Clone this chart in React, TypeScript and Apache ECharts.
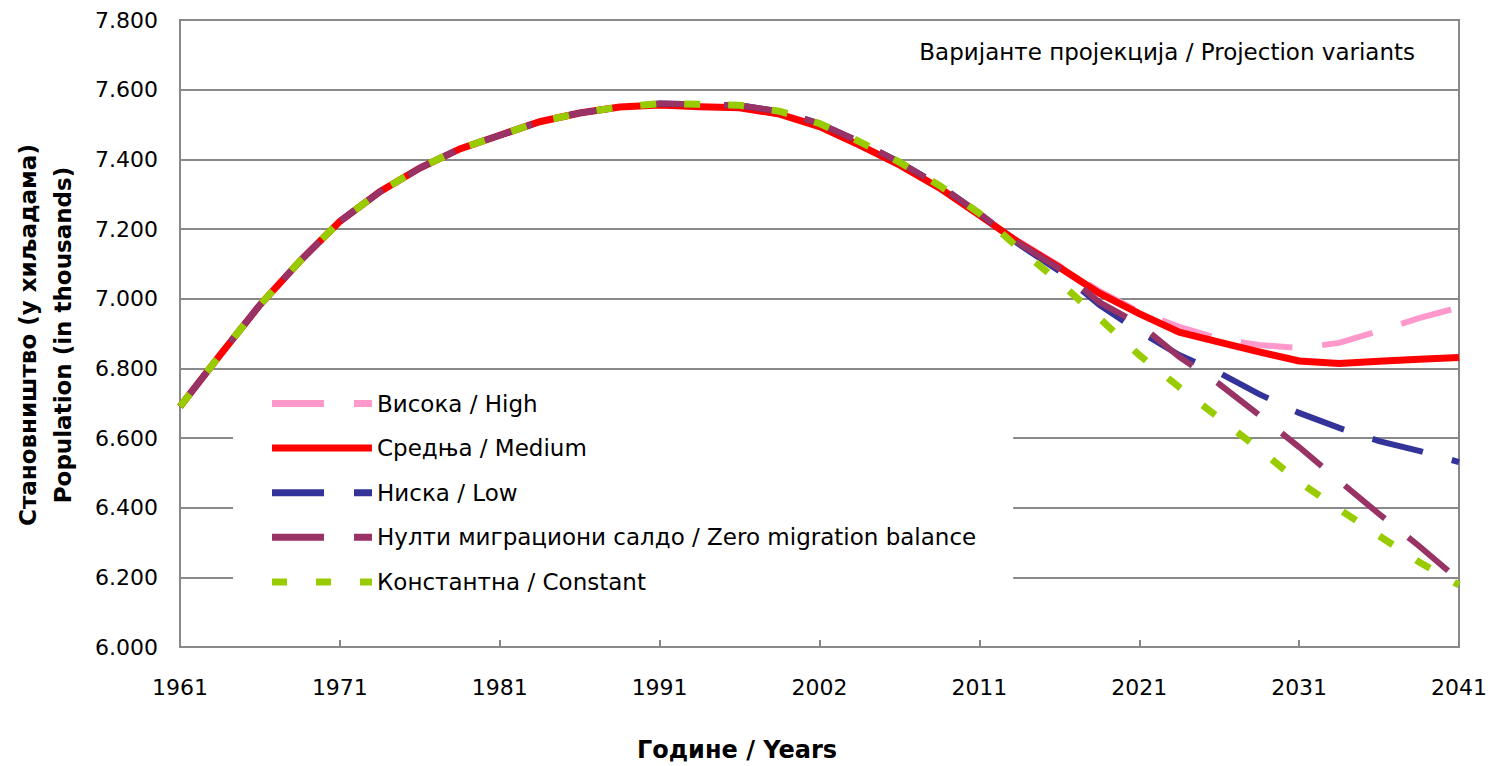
import React, { useEffect, useRef } from 'react';
import * as echarts from 'echarts';

// Category labels shown on the horizontal axis (every 4th data position)
const YEAR_LABELS = ['1961', '1971', '1981', '1991', '2002', '2011', '2021', '2031', '2041'];
const STEPS_PER_LABEL = 4;

const SERIES_NAMES = [
  'Висока / High',
  'Средња / Medium',
  'Ниска / Low',
  'Нулти миграциони салдо / Zero migration balance',
  'Константна / Constant',
];

// Population in thousands, 33 positions (4 per labelled interval)
const HIGH = [
  6690, 6838, 6982, 7108, 7222, 7307, 7375, 7430, 7469, 7508, 7533, 7550, 7556, 7551, 7548, 7530, 7494,
  7441, 7384, 7318, 7240, 7164, 7094, 7022, 6962, 6919, 6885, 6867, 6858, 6873, 6907, 6944, 6975,
];
const MEDIUM = [
  6690, 6838, 6982, 7108, 7222, 7307, 7375, 7430, 7469, 7508, 7533, 7550, 7556, 7551, 7548, 7530, 7494,
  7441, 7384, 7318, 7240, 7160, 7090, 7016, 6957, 6904, 6875, 6847, 6821, 6814, 6820, 6826, 6831,
];
const LOW = [
  6690, 6838, 6982, 7108, 7222, 7307, 7375, 7430, 7469, 7508, 7533, 7550, 7560, 7558, 7555, 7538, 7503,
  7451, 7392, 7325, 7245, 7155, 7079, 6982, 6906, 6838, 6787, 6726, 6672, 6629, 6591, 6563, 6531,
];
const ZERO_MIGRATION = [
  6690, 6838, 6982, 7108, 7222, 7307, 7375, 7430, 7469, 7508, 7533, 7550, 7560, 7558, 7555, 7538, 7503,
  7451, 7392, 7325, 7245, 7158, 7086, 6990, 6927, 6833, 6755, 6666, 6574, 6477, 6382, 6290, 6192,
];
const CONSTANT = [
  6690, 6838, 6982, 7108, 7222, 7307, 7375, 7430, 7469, 7508, 7533, 7550, 7560, 7558, 7555, 7538, 7503,
  7451, 7392, 7325, 7245, 7143, 7048, 6944, 6838, 6746, 6657, 6568, 6474, 6396, 6319, 6244, 6178,
];

const Y_MIN = 6000;
const Y_MAX = 7800;
const Y_STEP = 200;

const FONT = 'DejaVu Sans';
const GRID_COLOR = '#898989';

const STYLES = [
  { color: '#FF99CC', width: 6, dash: [52, 30] as number[] | 'solid', icon: 'path://M0,0H52V7H0Z M82,0H100V7H82Z' },
  { color: '#FF0000', width: 7, dash: 'solid' as number[] | 'solid', icon: 'path://M0,0H100V7H0Z' },
  { color: '#333399', width: 6, dash: [52, 30] as number[] | 'solid', icon: 'path://M0,0H52V7H0Z M82,0H100V7H82Z' },
  { color: '#993366', width: 6, dash: [52, 30] as number[] | 'solid', icon: 'path://M0,0H52V7H0Z M82,0H100V7H82Z' },
  { color: '#99CC00', width: 7, dash: [16, 28] as number[] | 'solid', icon: 'path://M0,0H15V7H0Z M44,0H59V7H44Z M88,0H100V7H88Z' },
];

const VALUES = [HIGH, MEDIUM, LOW, ZERO_MIGRATION, CONSTANT];

export default function App() {
  const ref = useRef<HTMLDivElement>(null);

  useEffect(() => {
    if (!ref.current) return;
    const chart = echarts.init(ref.current, undefined, { renderer: 'svg' });
    const maxX = (YEAR_LABELS.length - 1) * STEPS_PER_LABEL;

    chart.setOption({
      animation: false,
      backgroundColor: '#ffffff',
      grid: {
        left: 180,
        right: 30,
        top: 20,
        bottom: 119,
        show: true,
        borderColor: GRID_COLOR,
        borderWidth: 2,
        backgroundColor: 'transparent',
      },
      xAxis: {
        type: 'value',
        min: 0,
        max: maxX,
        interval: STEPS_PER_LABEL,
        splitLine: { show: false },
        axisLine: { show: true, lineStyle: { color: GRID_COLOR, width: 2 } },
        axisTick: { show: true, inside: true, length: 7, lineStyle: { color: GRID_COLOR, width: 2 } },
        axisLabel: {
          margin: 29,
          fontFamily: FONT,
          fontSize: 22,
          color: '#000',
          formatter: (v: number) => YEAR_LABELS[Math.round(v / STEPS_PER_LABEL)] ?? '',
        },
      },
      yAxis: {
        type: 'value',
        min: Y_MIN,
        max: Y_MAX,
        interval: Y_STEP,
        axisLine: { show: true, lineStyle: { color: GRID_COLOR, width: 2 } },
        axisTick: { show: false },
        splitLine: { show: true, lineStyle: { color: GRID_COLOR, width: 2 } },
        axisLabel: {
          margin: 22,
          fontFamily: FONT,
          fontSize: 22,
          color: '#000',
          formatter: (v: number) => (v / 1000).toFixed(3),
        },
      },
      legend: {
        orient: 'vertical',
        left: 233,
        top: 380,
        padding: [12, 37, 14, 39],
        backgroundColor: '#ffffff',
        itemWidth: 100,
        itemHeight: 7,
        itemGap: 21.6,
        selectedMode: false,
        textStyle: { fontFamily: FONT, fontSize: 23, color: '#000', lineHeight: 22 },
        data: SERIES_NAMES.map((name, k) => ({ name, icon: STYLES[k].icon })),
      },
      graphic: [
        {
          type: 'text',
          x: 28,
          y: 335,
          rotation: Math.PI / 2,
          style: {
            text: 'Становништво (у хиљадама)',
            font: `bold 23px "${FONT}"`,
            fill: '#000',
            textAlign: 'center',
            textVerticalAlign: 'middle',
            verticalAlign: 'middle',
          },
        },
        {
          type: 'text',
          x: 63,
          y: 335,
          rotation: Math.PI / 2,
          style: {
            text: 'Population (in thousands)',
            font: `bold 23px "${FONT}"`,
            fill: '#000',
            textAlign: 'center',
            textVerticalAlign: 'middle',
            verticalAlign: 'middle',
          },
        },
        {
          type: 'text',
          x: 737,
          y: 750,
          style: {
            text: 'Године / Years',
            font: `bold 24px "${FONT}"`,
            fill: '#000',
            textAlign: 'center',
            textVerticalAlign: 'middle',
            verticalAlign: 'middle',
          },
        },
        {
          type: 'text',
          x: 1415,
          y: 52,
          style: {
            text: 'Варијанте пројекција / Projection variants',
            font: `23px "${FONT}"`,
            fill: '#000',
            textAlign: 'right',
            textVerticalAlign: 'middle',
            verticalAlign: 'middle',
          },
        },
      ],
      series: SERIES_NAMES.map((name, k) => ({
        name,
        type: 'line',
        data: VALUES[k].map((v, i) => [i, v]),
        symbol: 'none',
        showSymbol: false,
        smooth: false,
        z: 2 + k,
        itemStyle: { color: STYLES[k].color },
        lineStyle: { color: STYLES[k].color, width: STYLES[k].width, type: STYLES[k].dash, cap: 'butt', join: 'miter' },
        emphasis: { disabled: true },
      })),
    });

    return () => chart.dispose();
  }, []);

  return (
    <div
      ref={ref}
      style={{ position: 'fixed', left: 0, top: 0, width: 1490, height: 766, background: '#fff' }}
    />
  );
}
